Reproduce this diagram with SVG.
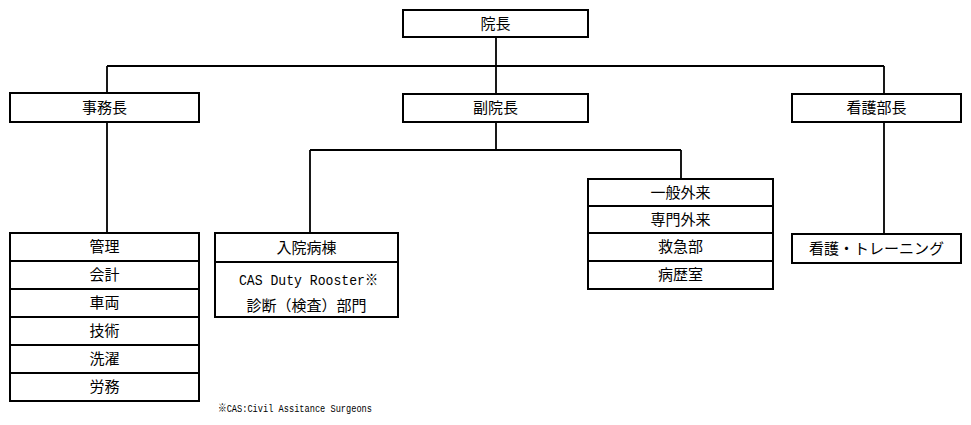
<svg xmlns="http://www.w3.org/2000/svg" width="971" height="425" viewBox="0 0 971 425">
<style>
.box{fill:#fff;stroke:#000;stroke-width:2}
.div{stroke:#000;stroke-width:1.8}
.con{stroke:#000;stroke-width:1.8;fill:none}
.t{font-family:"Noto Sans CJK JP","Noto Sans CJK SC",sans-serif;font-size:15px;text-anchor:middle;fill:#000}
.m{font-family:"Liberation Mono","Noto Sans CJK JP",monospace;fill:#000}
</style>
<rect width="971" height="425" fill="#fff"/>
<g id="connectors">
<path class="con" d="M496,37V94M107,66H884M107,66V93M884,66V94M107,122V233M496,122V150M310,150H681M310,150V233M681,150V179M884,122V234"/>
</g>
<g id="n-director">
<rect class="box" x="403" y="10" width="185" height="27"/>
<text class="t" x="495.5" y="29">院長</text>
</g>
<g id="n-admin">
<rect class="box" x="10" y="93" width="189" height="29"/>
<text class="t" x="104.5" y="113">事務長</text>
</g>
<g id="n-vice">
<rect class="box" x="403" y="94" width="185" height="28"/>
<text class="t" x="495.5" y="113">副院長</text>
</g>
<g id="n-nursing">
<rect class="box" x="792" y="94" width="169" height="28"/>
<text class="t" x="876.5" y="113">看護部長</text>
</g>
<g id="n-admin-depts">
<rect class="box" x="10" y="233" width="189" height="168"/>
<path class="div" d="M10,261H199M10,289H199M10,317H199M10,345H199M10,373H199"/>
<text class="t" x="104.5" y="252">管理</text>
<text class="t" x="104.5" y="280">会計</text>
<text class="t" x="104.5" y="308">車両</text>
<text class="t" x="104.5" y="336">技術</text>
<text class="t" x="104.5" y="364">洗濯</text>
<text class="t" x="104.5" y="392">労務</text>
</g>
<g id="n-inpatient">
<rect class="box" x="215" y="233" width="183" height="84"/>
<path class="div" d="M215,262H398"/>
<text class="t" x="306.5" y="253">入院病棟</text>
<text class="m" x="239" y="285" font-size="15" textLength="139" lengthAdjust="spacingAndGlyphs">CAS Duty Rooster※</text>
<text class="t" x="306.5" y="311">診断（検査）部門</text>
</g>
<g id="n-outpatient">
<rect class="box" x="588" y="179" width="185" height="110"/>
<path class="div" d="M588,206H773M588,233H773M588,261H773"/>
<text class="t" x="680.5" y="198">一般外来</text>
<text class="t" x="680.5" y="225">専門外来</text>
<text class="t" x="680.5" y="252">救急部</text>
<text class="t" x="680.5" y="280">病歴室</text>
</g>
<g id="n-training">
<rect class="box" x="792" y="234" width="169" height="29"/>
<text class="t" x="876.5" y="254">看護・トレーニング</text>
</g>
<text class="m" x="218" y="412" font-size="11" textLength="154" lengthAdjust="spacingAndGlyphs">※CAS:Civil Assitance Surgeons</text>
</svg>
